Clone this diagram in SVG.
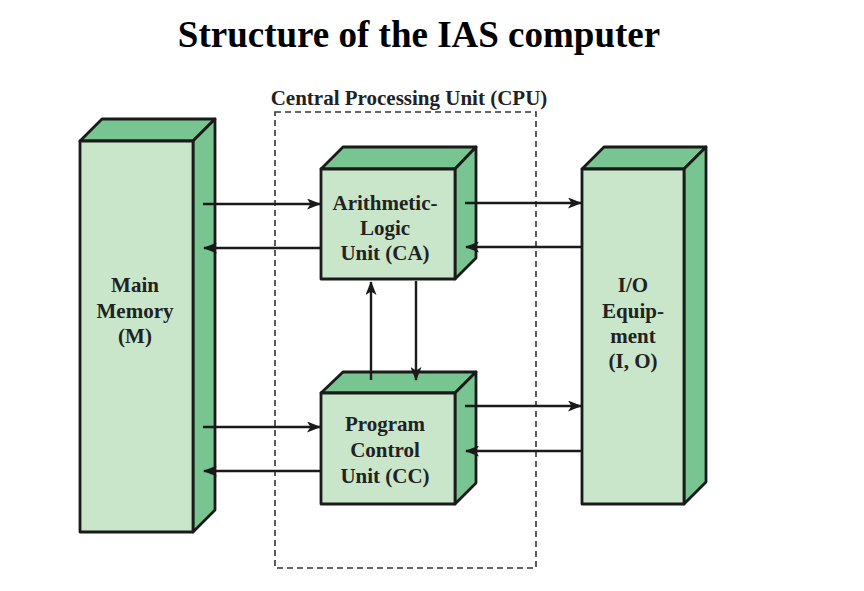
<svg xmlns="http://www.w3.org/2000/svg" width="864" height="591" viewBox="0 0 864 591">
<style>
.front{fill:#c9e6cb;stroke:#1a1a1a;stroke-width:2.8;stroke-linejoin:round}
.side{fill:#79c592;stroke:#1a1a1a;stroke-width:2.8;stroke-linejoin:round}
.lbl{font-family:"Liberation Serif","Times New Roman",serif;font-weight:bold;font-size:21px;fill:#222;text-anchor:middle}
.conn{stroke:#1a1a1a;stroke-width:2.4;fill:none;marker-end:url(#ah)}
</style>
<defs>
<marker id="ah" viewBox="0 0 14 11" refX="13" refY="5.5" markerWidth="14" markerHeight="11" markerUnits="userSpaceOnUse" orient="auto">
<path d="M0,0 L14,5.5 L0,11 L3.5,5.5 Z" fill="#1a1a1a"/>
</marker>
</defs>
<rect width="864" height="591" fill="#fff"/>
<text x="419" y="47" font-family="Liberation Serif,'Times New Roman',serif" font-weight="bold" font-size="37" text-anchor="middle" fill="#000">Structure of the IAS computer</text>

<g id="cpu">
<rect x="275" y="112" width="261" height="456" fill="none" stroke="#333" stroke-width="1.6" stroke-dasharray="6,4"/>
<text x="409" y="105" class="lbl">Central Processing Unit (CPU)</text>
</g>

<g id="main-memory">
<polygon class="side" points="80,141 102,119 215,119 193,141"/>
<polygon class="side" points="193,141 215,119 215,510 193,532"/>
<rect class="front" x="80" y="141" width="113" height="391"/>
<text class="lbl" x="135" y="292">Main</text>
<text class="lbl" x="135" y="318">Memory</text>
<text class="lbl" x="135" y="343">(M)</text>
</g>

<g id="alu">
<polygon class="side" points="321,169 343,147 476,147 455,169"/>
<polygon class="side" points="455,169 476,147 476,258 455,279"/>
<rect class="front" x="321" y="169" width="134" height="110"/>
<text class="lbl" x="385" y="210">Arithmetic-</text>
<text class="lbl" x="385" y="235">Logic</text>
<text class="lbl" x="385" y="260">Unit (CA)</text>
</g>

<g id="pcu">
<polygon class="side" points="321,393 343,372 476,372 455,393"/>
<polygon class="side" points="455,393 476,372 476,483 455,504"/>
<rect class="front" x="321" y="393" width="134" height="111"/>
<text class="lbl" x="385" y="431">Program</text>
<text class="lbl" x="385" y="457">Control</text>
<text class="lbl" x="385" y="483">Unit (CC)</text>
</g>

<g id="io">
<polygon class="side" points="582,169 604,147 706,147 684,169"/>
<polygon class="side" points="684,169 706,147 706,482 684,504"/>
<rect class="front" x="582" y="169" width="102" height="335"/>
<text class="lbl" x="633" y="292">I/O</text>
<text class="lbl" x="633" y="318">Equip-</text>
<text class="lbl" x="633" y="343">ment</text>
<text class="lbl" x="633" y="368">(I, O)</text>
</g>

<g id="connectors">
<line class="conn" x1="203" y1="204" x2="320" y2="204"/>
<line class="conn" x1="320" y1="248" x2="204" y2="248"/>
<line class="conn" x1="465" y1="203" x2="581" y2="203"/>
<line class="conn" x1="582" y1="247" x2="466" y2="247"/>
<line class="conn" x1="371" y1="380" x2="371" y2="282"/>
<line class="conn" x1="416" y1="281" x2="416" y2="380"/>
<line class="conn" x1="203" y1="427" x2="320" y2="427"/>
<line class="conn" x1="320" y1="471" x2="204" y2="471"/>
<line class="conn" x1="465" y1="406" x2="581" y2="406"/>
<line class="conn" x1="582" y1="451" x2="466" y2="451"/>
</g>
</svg>
